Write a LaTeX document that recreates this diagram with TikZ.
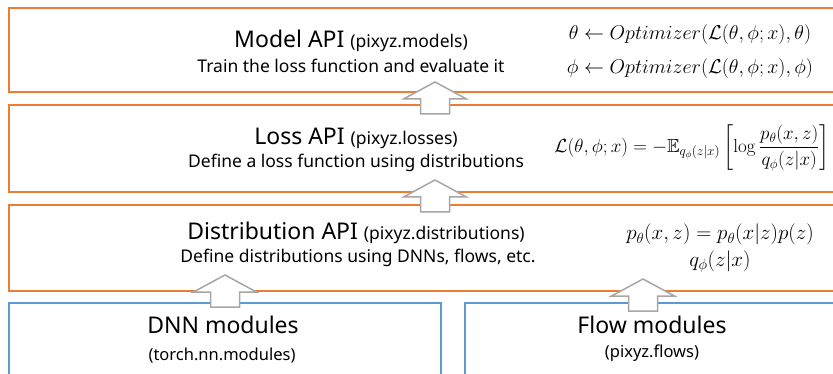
\RequirePackage{fix-cm}
\documentclass[tikz,border=0pt]{standalone}
\usepackage{amssymb}
\usepackage{amsmath}
\usepackage[no-math]{fontspec}
\setmainfont{Noto Sans}
\usepackage{tikz}
\usetikzlibrary{calc,positioning}

\definecolor{apiorange}{HTML}{ED7D31}
\definecolor{modblue}{HTML}{5B9BD5}
\definecolor{arrowgray}{HTML}{A6A6A6}

\tikzset{
	apibox/.style={draw=apiorange, line width=2pt, anchor=north west, minimum width=900pt, inner sep=0pt},
	modbox/.style={draw=modblue, line width=2pt, anchor=north west, minimum height=100pt, inner sep=0pt},
	apititle/.style={anchor=base, inner sep=0pt, font=\fontsize{23}{26}\selectfont},
	apisub/.style={anchor=base, inner sep=0pt, font=\fontsize{17.5}{20}\selectfont},
	modtitle/.style={anchor=base, inner sep=0pt, font=\fontsize{23}{26}\selectfont},
	modsub/.style={anchor=base, inner sep=0pt, font=\fontsize{16.5}{19}\selectfont},
	eq/.style={anchor=base, inner sep=0pt, font=\fontsize{20}{23}\selectfont},
	blockarrow/.style={draw=arrowgray, fill=white, line width=1.5pt, line join=miter},
	uparrow/.pic={
		\draw[blockarrow] (0,0) -- (31.5,17) -- (14.5,17) -- (14.5,32) -- (-14.5,32) -- (-14.5,17) -- (-31.5,17) -- cycle;
	}
}
\newcommand{\pkgname}[1]{{\fontsize{17.5}{20}\selectfont (#1)}}

\begin{document}
\begin{tikzpicture}[x=1pt,y=-1pt]
		\useasboundingbox (0,0) rectangle (833,374);
		\clip (0,0) rectangle (833,374);
		% layers
		\node[apibox, minimum height=84pt] (model) at (8,7) {};
		\node[apibox, minimum height=87pt] (loss) at (8,104) {};
		\node[apibox, minimum height=86pt] (dist) at (8,204) {};
		\node[modbox, minimum width=432pt] (dnn) at (8,302) {};
		\node[modbox, minimum width=400pt] (flow) at (464,302) {};
		
		\node[apititle] (modelname) at (351,48) {Model API \pkgname{pixyz.models}};
		\node[apisub] (modeldesc) at (351,73) {Train the loss function and evaluate it};
		\node[eq] (thetaupd) at (690,40) {$\theta \leftarrow Optimizer(\mathcal{L}(\theta,\phi;x),\theta)$};
		\node[eq] (phiupd) at (690,74) {$\phi \leftarrow Optimizer(\mathcal{L}(\theta,\phi;x),\phi)$};
		
		\node[apititle] (lossname) at (356,145) {Loss API \pkgname{pixyz.losses}};
		\node[apisub] (lossdesc) at (356,168) {Define a loss function using distributions};
		\node[eq, anchor=center, font=\fontsize{19}{22}\selectfont] (elbo) at (692,148) {$\mathcal{L}(\theta,\phi;x) = -\mathbb{E}_{q_\phi(z|x)}\left[\log\dfrac{p_\theta(x,z)}{q_\phi(z|x)}\right]$};
		
		\node[apititle] (distname) at (356,240) {Distribution API \pkgname{pixyz.distributions}};
		\node[apisub] (distdesc) at (358,263) {Define distributions using DNNs, flows, etc.};
		\node[eq, font=\fontsize{21}{24}\selectfont] (joint) at (720,240) {$p_\theta(x,z) = p_\theta(x|z)p(z)$};
		\node[eq, font=\fontsize{21}{24}\selectfont] (post) at (720,266) {$q_\phi(z|x)$};
		
		\node[modtitle] (dnnname) at (223,334) {DNN modules};
		\node[modsub] (dnnpkg) at (222,360) {(torch.nn.modules)};
		\node[modtitle] (flowname) at (652,333) {Flow modules};
		\node[modsub] (flowpkg) at (652,357) {(pixyz.flows)};
		
		% block arrows
		\pic at (435,82) {uparrow};
		\pic at (435,180) {uparrow};
		\pic at (225,275) {uparrow};
		\pic at (643,279) {uparrow};
	\end{tikzpicture}
\end{document}
